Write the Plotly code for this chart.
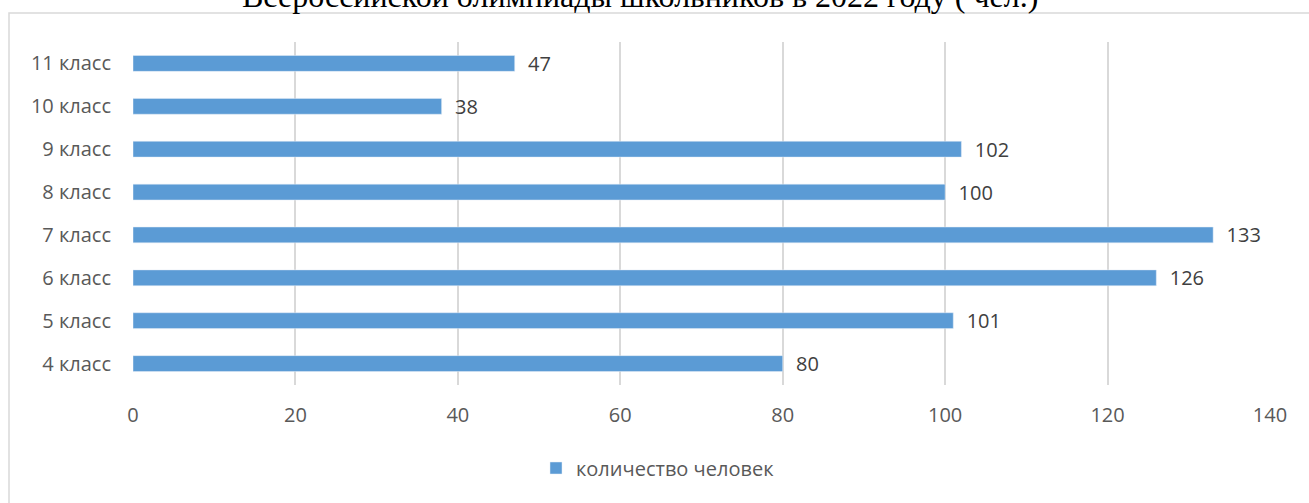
import plotly.graph_objects as go

categories = ["4 класс", "5 класс", "6 класс", "7 класс", "8 класс", "9 класс", "10 класс", "11 класс"]
values = [80, 101, 126, 133, 100, 102, 38, 47]
series_name = "количество человек"
x_ticks = [0, 20, 40, 60, 80, 100, 120, 140]
title_text = "Всероссийской олимпиады школьников в 2022 году ( чел.)"

W, H = 1309, 503
ml, mr, mt, mb = 133, 39, 42, 118
pw = W - ml - mr
ph = H - mt - mb

def px_x(p):
    return (p - ml) / pw

def px_y(p):
    return (H - mb - p) / ph

font_fam = "Open Sans, Liberation Sans, sans-serif"
fs = 20

fig = go.Figure()
fig.add_trace(go.Bar(
    y=categories, x=values, orientation="h", name=series_name,
    marker=dict(color="#5b9bd5"),
    text=["\u00a0\u00a0" + str(v) for v in values], textposition="outside", constraintext="none",
    textfont=dict(color="#404040", size=fs, family=font_fam),
    cliponaxis=False,
))

fig.update_layout(
    width=W, height=H,
    margin=dict(l=ml, r=mr, t=mt, b=mb),
    plot_bgcolor="white", paper_bgcolor="white",
    bargap=0.63,
    showlegend=True,
    legend=dict(orientation="h", x=px_x(658), xanchor="center", y=px_y(468), yanchor="middle",
                font=dict(color="#595959", size=fs, family=font_fam)),
    xaxis=dict(range=[0, 140], tickvals=x_ticks, showgrid=True, gridcolor="#d9d9d9", gridwidth=1.5,
               zeroline=False, showline=False, ticks="",
               tickfont=dict(color="#595959", size=fs, family=font_fam), ticklabelstandoff=16),
    yaxis=dict(categoryorder="array", categoryarray=categories, showgrid=False, zeroline=False,
               showline=False, ticks="", tickfont=dict(color="#595959", size=fs, family=font_fam),
               ticklabelstandoff=21),
    shapes=[dict(type="rect", xref="paper", yref="paper",
                 x0=px_x(9), x1=px_x(1315), y0=px_y(515), y1=px_y(13),
                 line=dict(color="#d9d9d9", width=1.5), fillcolor="rgba(0,0,0,0)", layer="below")],
    annotations=[dict(text=title_text, xref="paper", yref="paper", x=px_x(640), y=px_y(16),
                      xanchor="center", yanchor="bottom", showarrow=False,
                      font=dict(family="Liberation Serif, Times New Roman, serif", size=32, color="black"))],
)

fig.write_html("out.html", config={"displayModeBar": False},
               post_script="document.body.style.margin='0';")
